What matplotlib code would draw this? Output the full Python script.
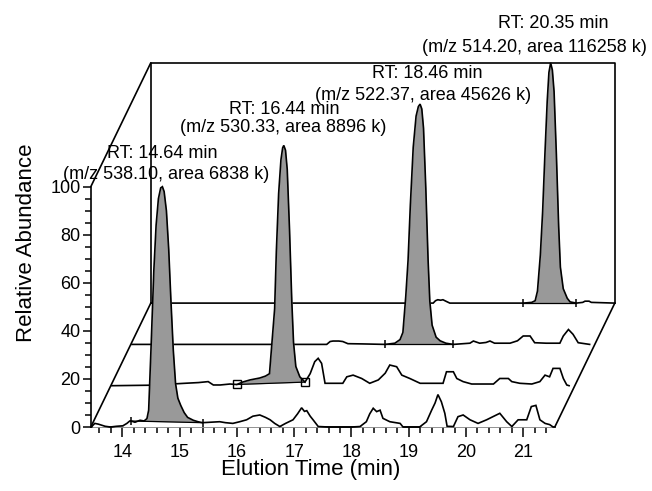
import numpy as np
import matplotlib
matplotlib.use("Agg")
import matplotlib.pyplot as plt
from matplotlib.transforms import ScaledTranslation
from matplotlib.patches import ConnectionPatch

plt.rcParams['font.family'] = ['Liberation Sans', 'DejaVu Sans']

# ---------------- data ----------------
t1 = [13.47, 13.52, 13.58, 13.70, 13.79, 13.90, 14.01, 14.08, 14.13, 14.15, 14.22, 14.31, 14.38,
      14.43, 14.46, 14.50, 14.55, 14.59, 14.63, 14.67, 14.70, 14.73, 14.77, 14.81, 14.85, 14.89,
      14.93, 14.97, 15.02, 15.08, 15.14, 15.24, 15.32, 15.40, 15.55, 15.70, 15.80, 15.93, 16.05,
      16.17, 16.28, 16.40, 16.50, 16.58, 16.66, 16.75, 16.85, 16.98, 17.06, 17.13, 17.18, 17.22,
      17.28, 17.33, 17.42, 17.60, 17.80, 18.00, 18.15, 18.26, 18.32, 18.38, 18.44, 18.50, 18.55,
      18.67, 18.85, 18.90, 19.05, 19.19, 19.31, 19.40, 19.46, 19.51, 19.57, 19.63, 19.67, 19.78,
      19.86, 19.95, 20.07, 20.21, 20.36, 20.47, 20.59, 20.71, 20.80, 20.91, 21.06, 21.14, 21.22,
      21.29, 21.38, 21.46, 21.52]
v1 = [0.3, 1.5, 1.2, 0.3, 0.0, 0.3, 0.5, 1.5, 2.5, 2.5, 2.0, 2.8, 2.5,
      3.5, 7.0, 32, 65, 84, 95, 99.5, 100, 98, 90, 74, 52, 32,
      18, 12, 9.0, 6.0, 4.0, 2.8, 2.2, 1.8, 2.0, 2.2, 1.8, 1.5, 2.2,
      3.0, 4.5, 5.0, 4.0, 3.0, 1.5, 0.2, 1.5, 3.0, 5.5, 8.0, 6.5, 6.8,
      4.5, 3.0, 0.2, 0.0, 0.0, 0.0, 0.2, 2.2, 5.5, 7.8, 6.4, 7.0, 3.6,
      2.2, 1.5, 0.0, 0.0, 0.0, 2.2, 7.0, 10.0, 13.5, 10.5, 5.7, 0.3, 0.2,
      4.3, 5.0, 3.0, 1.5, 3.0, 4.3, 5.7, 2.2, 0.2, 3.0, 3.0, 8.5, 9.0,
      3.0, 1.5, 1.0, 0.0]

t2 = [13.47, 14.13, 14.52, 14.74, 14.98, 15.15, 15.24, 15.36, 15.53, 15.65, 15.75, 15.88, 16.05,
      16.15, 16.22, 16.27, 16.31, 16.34, 16.38, 16.42, 16.45, 16.47, 16.50, 16.53, 16.57, 16.61,
      16.64, 16.68, 16.75, 16.84, 16.93, 17.01, 17.07, 17.13, 17.19, 17.35, 17.50, 17.57, 17.68,
      17.83, 17.97, 18.12, 18.24, 18.32, 18.44, 18.53, 18.67, 18.85, 19.05, 19.25, 19.31, 19.43,
      19.49, 19.60, 19.75, 19.95, 20.13, 20.24, 20.39, 20.45, 20.59, 20.80, 20.94, 21.03, 21.11,
      21.17, 21.29, 21.35, 21.41, 21.45]
v2 = [0.0, 0.2, 0.7, 1.0, 1.3, 1.7, 0.3, 0.3, 0.7, 0.5, 1.5, 2.4, 3.2,
      4.0, 5.0, 20, 32, 56, 80, 94, 99, 100, 98, 90, 65, 35,
      18, 8.0, 3.7, 1.5, 5.0, 10.0, 11.4, 9.3, 1.0, 1.0, 1.0, 3.7, 4.4,
      3.0, 1.0, 2.4, 5.2, 8.6, 7.9, 4.4, 3.0, 1.0, 1.0, 1.0, 5.8, 5.8,
      3.0, 1.7, 0.7, 0.7, 0.7, 3.0, 3.0, 1.7, 1.0, 0.7, 1.7, 4.4, 3.7,
      7.2, 7.2, 3.0, 0.3, 0.0]

t3 = [13.47, 14.50, 15.50, 16.50, 16.87, 16.93, 16.98, 17.08, 17.15, 17.24, 17.50, 17.89, 18.06,
      18.15, 18.20, 18.25, 18.29, 18.33, 18.38, 18.43, 18.47, 18.50, 18.53, 18.56, 18.60, 18.64,
      18.67, 18.71, 18.78, 18.85, 18.95, 19.08, 19.37, 19.43, 19.54, 19.65, 19.72, 19.80, 19.90,
      20.07, 20.20, 20.30, 20.42, 20.50, 20.70, 20.94, 21.00, 21.09, 21.17, 21.26, 21.46]
v3 = [0.0, 0.0, 0.0, 0.0, 0.0, 1.2, 1.4, 1.4, 1.2, 0.3, 0.2, 0.0, 0.5,
      2.0, 5.0, 20, 35, 58, 82, 95, 99, 100, 98, 90, 65, 35,
      18, 8.0, 3.0, 1.5, 0.5, 0.0, 0.5, 1.4, 0.5, 0.8, 1.4, 0.5, 0.5,
      0.5, 1.5, 3.5, 3.5, 0.7, 0.5, 0.5, 3.5, 6.2, 4.2, 0.7, 0.0]

t4 = [13.45, 15.00, 16.50, 18.00, 18.38, 18.42, 18.46, 18.51, 18.55, 18.60, 18.67, 19.20, 19.95,
      20.10, 20.16, 20.20, 20.25, 20.29, 20.33, 20.37, 20.40, 20.43, 20.46, 20.49, 20.53, 20.57,
      20.60, 20.65, 20.72, 20.77, 20.88, 20.99, 21.03, 21.10, 21.14, 21.55]
v4 = [0.0, 0.0, 0.0, 0.0, 0.0, 1.0, 1.4, 1.2, 1.4, 0.8, 0.0, 0.0, 0.0,
      0.3, 1.0, 5.0, 20, 38, 62, 84, 96, 100, 97, 88, 62, 32,
      15, 6.0, 2.0, 0.5, 0.0, 0.3, 0.8, 0.8, 0.3, 0.0]

# integration boundaries (min) of each labelled peak
bounds = [(14.15, 15.40), (15.65, 16.84), (17.89, 19.08), (19.95, 20.88)]
marker_kind = ['tick', 'square', 'tick', 'tick']

labels_rt = ['RT: 14.64 min', 'RT: 16.44 min', 'RT: 18.46 min', 'RT: 20.35 min']
labels_info = ['(m/z 538.10, area 6838 k)', '(m/z 530.33, area 8896 k)',
               '(m/z 522.37, area 45626 k)', '(m/z 514.20, area 116258 k)']

x_major = [14, 15, 16, 17, 18, 19, 20, 21]
y_major = [0, 20, 40, 60, 80, 100]

# ---------------- layout ----------------
W, H = 652, 491
fig = plt.figure(figsize=(W / 100, H / 100), dpi=100)
ax = fig.add_axes([90.8 / W, (H - 427) / H, 464 / W, 240.3 / H])
ax.set_xlim(13.45, 21.55)
ax.set_ylim(0, 100)
for s in ['top', 'right']:
    ax.spines[s].set_visible(False)
for s in ['left', 'bottom']:
    ax.spines[s].set_linewidth(1.2)
ax.set_xticks(x_major)
ax.set_xticks(np.arange(13.6, 21.45, 0.2), minor=True)
ax.set_yticks(y_major)
ax.set_yticks(np.arange(0, 101, 5), minor=True)
ax.tick_params(axis='x', which='major', length=7, width=1.1, pad=5, labelsize=13)
ax.tick_params(axis='x', which='minor', length=4.5, width=1.1)
ax.tick_params(axis='y', which='major', length=6, width=1.1, pad=1.5, labelsize=13)
ax.tick_params(axis='y', which='minor', length=4, width=1.1)
ax.patch.set_alpha(0)

DX, DY = 0.20, 0.413  # inches per layer (depth offset)

def layer_trans(k):
    return ax.transData + ScaledTranslation(k * DX, k * DY, fig.dpi_scale_trans)

def layer_axes(k):
    return ax.transAxes + ScaledTranslation(k * DX, k * DY, fig.dpi_scale_trans)

LW = 1.2
# back plane frame
bt = layer_axes(3)
ax.plot([0, 0, 1, 1], [0, 1, 1, 0], color='black', lw=LW, transform=bt, clip_on=False, zorder=1)
# depth diagonals
for (xa, ya) in [(0, 0), (0, 1), (1, 0)]:
    cp = ConnectionPatch(xyA=(xa, ya), coordsA=layer_axes(0), xyB=(xa, ya), coordsB=bt,
                         color='black', lw=LW, zorder=1)
    fig.add_artist(cp)

traces = [(t1, v1), (t2, v2), (t3, v3), (t4, v4)]
for k in range(3, -1, -1):
    t = np.array(traces[k][0]); v = np.array(traces[k][1])
    tr = layer_trans(k)
    z = 10 + (3 - k) * 4
    # white occlusion under the trace
    ax.fill_between(t, 0, v, color='white', lw=0, transform=tr, clip_on=False, zorder=z)
    # grey integrated area between boundaries
    a, b = bounds[k]
    va, vb = np.interp(a, t, v), np.interp(b, t, v)
    m = (t >= a) & (t <= b)
    tt = np.concatenate([[a], t[m], [b]])
    vv = np.concatenate([[va], v[m], [vb]])
    base = va + (vb - va) * (tt - a) / (b - a)
    ax.fill_between(tt, base, vv, color='#999999', lw=0, transform=tr, clip_on=False, zorder=z + 1)
    ax.plot([a, b], [va, vb], color='black', lw=0.9, transform=tr, clip_on=False, zorder=z + 2)
    ax.plot(t, v, color='black', lw=LW, transform=tr, clip_on=False, zorder=z + 2,
            solid_joinstyle='miter')
    if marker_kind[k] == 'square':
        ax.plot([a, b], [va, vb], ls='none', marker='s', ms=5.5, mfc='none', mec='black', mew=1.0,
                transform=tr, clip_on=False, zorder=z + 3)
    else:
        ax.plot([a, b], [va, vb], ls='none', marker='|', ms=6, mec='black', mew=1.1,
                transform=tr, clip_on=False, zorder=z + 3)

# peak annotations (figure pixel positions)
ann_pos = [((162, 153), (166, 174)), ((284, 109), (283, 128)),
           ((427, 73), (423, 96)), ((553, 23), (534, 48))]
for (p1, p2), l1, l2 in zip(ann_pos, labels_rt, labels_info):
    fig.text(p1[0] / W, 1 - p1[1] / H, l1, ha='center', va='center', fontsize=13)
    fig.text(p2[0] / W, 1 - p2[1] / H, l2, ha='center', va='center', fontsize=13)

fig.text(311 / W, 1 - 470 / H, 'Elution Time (min)', ha='center', va='center', fontsize=16)
fig.text(27 / W, 1 - 243 / H, 'Relative Abundance', ha='center', va='center', fontsize=16,
         rotation=90)

fig.savefig('out.png', dpi=100)
